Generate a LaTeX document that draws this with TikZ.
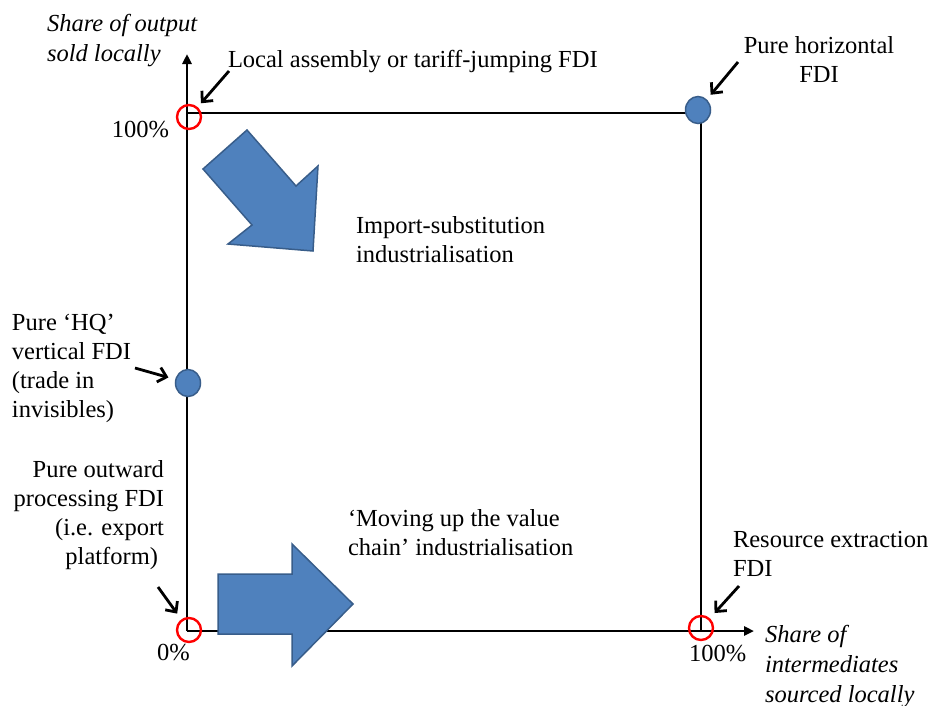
\documentclass[tikz,border=0pt]{standalone}
\usepackage{fontspec}
\setmainfont{Liberation Serif}
\usetikzlibrary{arrows.meta,shapes.geometric}
\definecolor{bfill}{HTML}{4F81BD}
\definecolor{bline}{HTML}{385D8A}
\begin{document}
\begin{tikzpicture}[x=1pt,y=-1pt,
  txt/.style={font=\fontsize{24.5}{29}\selectfont, inner sep=0pt, outer sep=0pt},
  itxt/.style={font=\fontsize{24.5}{30}\selectfont\itshape, inner sep=0pt, outer sep=0pt},
  axisline/.style={line width=2.7pt, -{Triangle[length=10pt,width=9pt]}},
  frameline/.style={line width=2.7pt},
  callout/.style={line width=2.8pt, -{Straight Barb[length=8pt,width=15pt,line width=2.8pt]}},
  redc/.style={circle, draw=red, line width=2.4pt, minimum size=24pt, inner sep=0pt},
  bluec/.style={ellipse, fill=bfill, draw=bline, line width=1.5pt, minimum width=25pt, minimum height=27pt, inner sep=0pt},
  bigarrow/.style={fill=bfill, draw=bline, line width=1.5pt, line join=miter}]

\useasboundingbox (0,0) rectangle (932,705);

% axes and frame
\coordinate (O) at (187,631);
\coordinate (ytop) at (187,54);
\coordinate (xend) at (754,631);
\coordinate (TL) at (187,113);
\coordinate (TR) at (701,113);
\coordinate (BR) at (701,631);
\draw[axisline] (O) -- (ytop);
\draw[axisline] (O) -- (xend);
\draw[frameline] (TL) -- (TR) -- (BR);

% big block arrows
\draw[bigarrow] (247,130) -- (203,169) -- (252,225) -- (228,244) -- (313,251) -- (318,166) -- (296,186) -- cycle;
\draw[bigarrow] (218,574) -- (292,574) -- (292,544) -- (353,604) -- (292,666) -- (292,634) -- (218,634) -- cycle;

% markers
\node[redc] (c1) at (189,117) {};
\node[redc] (c2) at (189,630) {};
\node[redc] (c3) at (701,628) {};
\node[bluec] (b1) at (698,110) {};
\node[bluec] (b2) at (188,383) {};

% callout arrows
\coordinate (s1) at (229,71);
\coordinate (s2) at (738,62);
\coordinate (s3) at (135,368);
\coordinate (s4) at (158,587);
\coordinate (s5) at (739,586);
\draw[callout, shorten >=5pt] (s1) -- (c1);
\draw[callout, shorten >=6pt] (s2) -- (b1);
\draw[callout, shorten >=7pt] (s3) -- (b2);
\draw[callout, shorten >=7pt] (s4) -- (c2);
\draw[callout, shorten >=7pt] (s5) -- (c3);

% labels
\node[itxt, align=left, anchor=north west] (ylab) at (47,14) {Share of output\\sold locally};
\node[txt, anchor=north west] (local) at (228,50) {Local assembly or tariff-jumping FDI};
\node[txt, align=center, anchor=north] (horiz) at (819,36) {Pure horizontal\\FDI};
\node[txt, anchor=base east] (p100l) at (169,137) {100\%};
\node[txt, align=left, anchor=north west] (isi) at (356,216) {Import-substitution\\industrialisation};
\node[txt, align=left, anchor=north west] (hq) at (12,314) {Pure ‘HQ’\\vertical FDI\\(trade in\\invisibles)};
\node[txt, align=right, anchor=north east] (pout) at (164,460) {Pure outward\\processing FDI\\(i.e. export\\platform)\kern6pt};
\node[txt, align=left, anchor=north west] (moving) at (348,509) {‘Moving up the value\\chain’ industrialisation};
\node[txt, align=left, anchor=north west] (res) at (733,531) {Resource extraction\\FDI};
\node[txt, anchor=base west] (p0) at (157,660) {0\%};
\node[txt, anchor=base west] (p100r) at (689,661) {100\%};
\node[itxt, align=left, anchor=north west] (xlab) at (765,625) {Share of\\intermediates\\sourced locally};
\end{tikzpicture}
\end{document}
